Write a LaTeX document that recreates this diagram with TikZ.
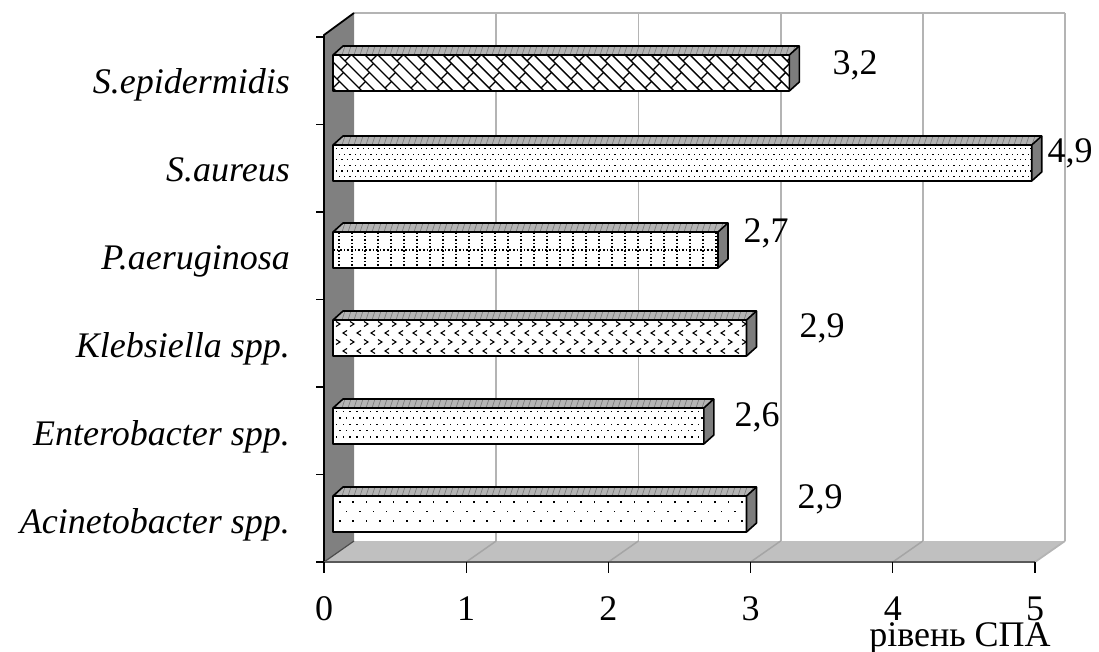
\documentclass[tikz,border=0pt]{standalone}
\usepackage{fontspec}
\setmainfont{Liberation Serif}
\definecolor{wallgray}{RGB}{128,128,128}
\definecolor{floorgray}{RGB}{192,192,192}
\definecolor{gridgray}{RGB}{180,180,180}
\definecolor{floorline}{RGB}{165,165,165}
\definecolor{topgray}{RGB}{180,180,180}
\definecolor{sidegray}{RGB}{125,125,125}
\newcommand\barfaces[2]{%
  \fill[topgray] (333,#1) -- (343,#1-9) -- (#2+10,#1-9) -- (#2,#1) -- cycle;
  \fill[sidegray] (#2,#1) -- (#2+10,#1-9) -- (#2+10,#1+27) -- (#2,#1+36) -- cycle;
  \begin{scope}
  \clip (333,#1) -- (343,#1-9) -- (#2+10,#1-9) -- (#2,#1) -- cycle;
  \foreach \xx in {336,342,...,1050}{\draw[black!55,line width=0.6pt] (\xx,#1) -- (\xx+3,#1-9);}
  \end{scope}
  \fill[white] (333,#1) rectangle (#2,#1+36);}
\newcommand\baroutline[2]{%
  \draw[baredge] (333,#1) -- (343,#1-9) -- (#2+10,#1-9) -- (#2+10,#1+27) -- (#2,#1+36) -- (333,#1+36) -- cycle;
  \draw[baredge] (333,#1) -- (#2,#1) -- (#2+10,#1-9) (#2,#1) -- (#2,#1+36);}
\begin{document}
\begin{tikzpicture}[x=1pt,y=-1pt,
  baredge/.style={draw=black,line width=1.6pt,line join=round},
  catlab/.style={font=\fontsize{36}{40}\selectfont\itshape,anchor=base east,inner sep=0pt},
  numlab/.style={font=\fontsize{36}{40}\selectfont,anchor=base,inner sep=0pt},
  gridline/.style={draw=gridgray,line width=1.8pt}]
\useasboundingbox (0,0) rectangle (1099,652);
% back wall
\fill[white] (354,13) rectangle (1065,541);
\foreach \k in {1,...,5}{\draw[gridline] (354+\k*142.2,13) -- (354+\k*142.2,541);}
\draw[gridline] (354,13) -- (1065,13);
% floor
\fill[floorgray] (324,562) -- (1035,562) -- (1065,541) -- (354,541) -- cycle;
\foreach \k in {1,...,4}{\draw[floorline,line width=1.5pt] (324+\k*142.2,562) -- (354+\k*142.2,541);}
\draw[gridgray,line width=1.8pt] (1035,562) -- (1065,541);
% left wall
\fill[wallgray] (324,35) -- (354,13) -- (354,541) -- (324,562) -- cycle;
\draw[black!70,line width=1.2pt] (324,562) -- (354,541);
% bars: top y and right x = 333 + v*142.6
% 1 S.epidermidis 3.2
\barfaces{55}{789.3}
\begin{scope}
\clip (333,55) rectangle (789.3,91);
\foreach \c [count=\i] in {300,313,...,800}{
  \pgfmathsetmacro\sh{mod(\i,2)*9}
  \draw[line width=1.4pt] (\c,55) -- (\c+36,91);
  \draw[line width=1.4pt] (\c+6+\sh,61+\sh) -- (\c+12.5+\sh,54.5+\sh) (\c+24+\sh,79+\sh) -- (\c+30.5+\sh,72.5+\sh);}
\end{scope}
\baroutline{55}{789.3}
% 2 S.aureus 4.9
\barfaces{145}{1031.7}
\begin{scope}
\clip (333,145) rectangle (1031.7,181);
\foreach \r in {0,...,6}{
  \pgfmathsetmacro\yy{148+\r*5.6}
  \pgfmathsetmacro\off{mod(\r,2)*2.65}
  \foreach \xx in {336,341.3,...,1032}{\fill (\xx+\off,\yy) rectangle ++(1.3,1.3);}}
\end{scope}
\baroutline{145}{1031.7}
% 3 P.aeruginosa 2.7
\barfaces{232}{718}
\begin{scope}
\clip (333,232) rectangle (718,268);
\foreach \xx in {339,352,...,720}{\draw[line width=1.2pt,dash pattern=on 1.6pt off 2pt] (\xx,232) -- (\xx,268);}
\draw[line width=1.2pt,dash pattern=on 1.6pt off 2pt] (333,250) -- (718,250);
\end{scope}
\baroutline{232}{718}
% 4 Klebsiella 2.9
\barfaces{320}{746.5}
\begin{scope}
\clip (333,320) rectangle (746.5,356);
\foreach \r in {0,...,3}{
  \pgfmathsetmacro\yy{324+\r*9}
  \pgfmathsetmacro\off{mod(\r,2)*7}
  \pgfmathsetmacro\dir{1-2*mod(\r,2)}
  \foreach \xx in {338,352,...,750}{\draw[line width=1.1pt] (\xx+\off-2*\dir,\yy-2.5) -- (\xx+\off+2*\dir,\yy) -- (\xx+\off-2*\dir,\yy+2.5);}}
\end{scope}
\baroutline{320}{746.5}
% 5 Enterobacter 2.6
\barfaces{408}{703.8}
\begin{scope}
\clip (333,408) rectangle (703.8,444);
\foreach \r in {0,...,5}{
  \pgfmathsetmacro\yy{411+\r*6.3}
  \pgfmathsetmacro\off{mod(\r,2)*3.3}
  \foreach \xx in {336,342.7,...,706}{\fill (\xx+\off,\yy) rectangle ++(1.4,1.4);}}
\end{scope}
\baroutline{408}{703.8}
% 6 Acinetobacter 2.9
\barfaces{496}{746.5}
\begin{scope}
\clip (333,496) rectangle (746.5,532);
\foreach \r in {0,...,2}{
  \pgfmathsetmacro\yy{501+\r*9.6}
  \pgfmathsetmacro\off{mod(\r,2)*6.7}
  \foreach \xx in {339,352.4,...,750}{\fill (\xx+\off,\yy) rectangle ++(1.5,1.5);}}
\end{scope}
\baroutline{496}{746.5}
% axes
\draw[black,line width=1.8pt] (324,562) -- (324,35) -- (354,13);
\draw[black!65,line width=2.2pt] (323,562) -- (1035,562);
\foreach \k in {0,...,6}{\draw[black,line width=1.3pt] (316,37+\k*87.5) -- (324,37+\k*87.5);}
\foreach \k in {0,...,5}{\draw[black,line width=1.3pt] (324+\k*142.2,562) -- (324+\k*142.2,573);}
% axis numbers
\foreach \k in {0,...,5}{\node[numlab] (n\k) at (324+\k*142.2,620) {\k};}
\node[numlab] (xtitle) at (960,646) {рівень СПА};
% category labels
\node[catlab] (c1) at (290,94) {S.epidermidis};
\node[catlab] (c2) at (290,181.8) {S.aureus};
\node[catlab] (c3) at (290,269.6) {P.aeruginosa};
\node[catlab] (c4) at (290,357.4) {Klebsiella spp.};
\node[catlab] (c5) at (290,445.2) {Enterobacter spp.};
\node[catlab] (c6) at (290,533) {Acinetobacter spp.};
% value labels
\node[numlab] (v1) at (855,75) {3,2};
\node[numlab] (v2) at (1070,163) {4,9};
\node[numlab] (v3) at (766,242) {2,7};
\node[numlab] (v4) at (822,337) {2,9};
\node[numlab] (v5) at (757,426) {2,6};
\node[numlab] (v6) at (820,508) {2,9};
\end{tikzpicture}
\end{document}
